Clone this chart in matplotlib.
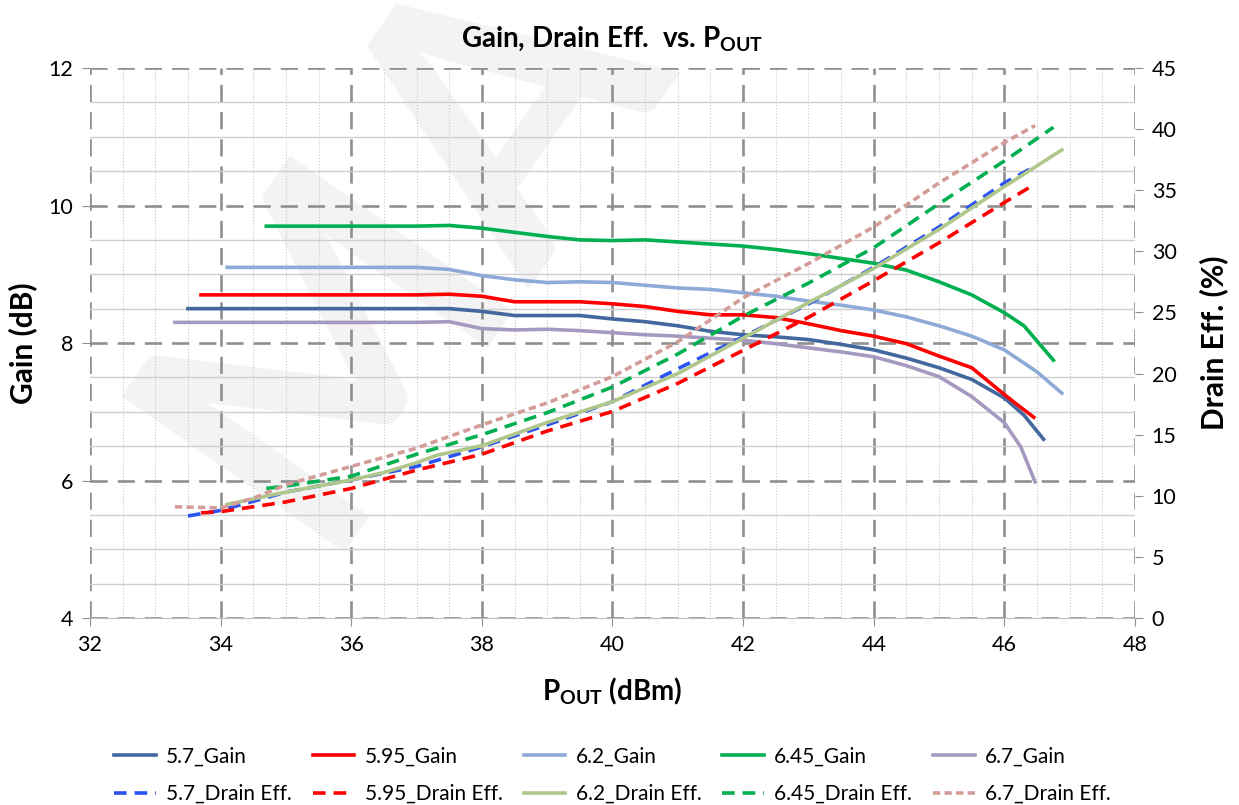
import numpy as np
import matplotlib
matplotlib.use("Agg")
import matplotlib.pyplot as plt
from matplotlib.ticker import MultipleLocator

plt.rcParams['font.family'] = ['Lato', 'DejaVu Sans']

# ---- data ----
g57_x = [33.5, 34, 35, 36, 37, 37.5, 38, 38.5, 39, 39.5, 40, 40.5, 41, 41.5, 42, 42.5, 43, 43.5, 44, 44.5, 45, 45.5, 46, 46.3, 46.6]
g57_y = [8.5, 8.5, 8.5, 8.5, 8.5, 8.5, 8.46, 8.4, 8.4, 8.4, 8.35, 8.31, 8.25, 8.17, 8.12, 8.09, 8.05, 7.98, 7.9, 7.78, 7.64, 7.47, 7.2, 6.95, 6.6]

g595_x = [33.7, 34, 35, 36, 37, 37.5, 38, 38.5, 39, 39.5, 40, 40.5, 41, 41.5, 42, 42.5, 43, 43.5, 44, 44.5, 45, 45.5, 46, 46.2, 46.45]
g595_y = [8.7, 8.7, 8.7, 8.7, 8.7, 8.71, 8.68, 8.6, 8.6, 8.6, 8.57, 8.53, 8.46, 8.41, 8.41, 8.37, 8.28, 8.18, 8.1, 7.99, 7.81, 7.64, 7.25, 7.1, 6.92]

g62_x = [34.1, 35, 36, 37, 37.5, 38, 38.5, 39, 39.5, 40, 40.5, 41, 41.5, 42, 42.5, 43, 43.5, 44, 44.5, 45, 45.5, 46, 46.5, 46.88]
g62_y = [9.1, 9.1, 9.1, 9.1, 9.07, 8.98, 8.92, 8.88, 8.89, 8.88, 8.84, 8.8, 8.78, 8.73, 8.68, 8.61, 8.55, 8.48, 8.38, 8.25, 8.1, 7.9, 7.58, 7.27]

g645_x = [34.7, 35, 36, 37, 37.5, 38, 38.5, 39, 39.5, 40, 40.5, 41, 41.5, 42, 42.5, 43, 43.5, 44, 44.5, 45, 45.5, 46, 46.3, 46.75]
g645_y = [9.7, 9.7, 9.7, 9.7, 9.71, 9.67, 9.61, 9.55, 9.5, 9.49, 9.5, 9.47, 9.44, 9.41, 9.36, 9.3, 9.23, 9.16, 9.06, 8.89, 8.7, 8.44, 8.25, 7.75]

g67_x = [33.3, 34, 35, 36, 37, 37.5, 38, 38.5, 39, 39.5, 40, 40.5, 41, 41.5, 42, 42.5, 43, 43.5, 44, 44.5, 45, 45.5, 46, 46.25, 46.47]
g67_y = [8.3, 8.3, 8.3, 8.3, 8.3, 8.31, 8.21, 8.19, 8.2, 8.18, 8.15, 8.12, 8.1, 8.07, 8.04, 7.99, 7.93, 7.87, 7.8, 7.67, 7.51, 7.22, 6.84, 6.49, 5.98]

de57_x = [33.5, 34, 35, 36, 37, 38, 39, 40, 41, 42, 43, 44, 45, 46, 46.45]
de57_y = [8.35, 8.8, 10.3, 11.3, 12.4, 14.0, 15.8, 17.7, 20.4, 23.0, 25.7, 28.7, 32.0, 35.6, 36.9]

de595_x = [33.7, 34, 35, 36, 37, 38, 39, 40, 41, 42, 43, 44, 45, 46, 46.42]
de595_y = [8.6, 8.7, 9.5, 10.6, 12.1, 13.4, 15.3, 16.9, 19.2, 21.9, 24.6, 27.6, 30.7, 34.0, 35.35]

de62_x = [34.1, 35, 36, 36.5, 37, 37.3, 38, 39, 40, 41, 42, 43, 44, 45, 46, 46.88]
de62_y = [9.3, 10.3, 11.3, 11.9, 12.7, 13.3, 14.1, 16.0, 17.7, 20.0, 22.9, 25.8, 28.6, 31.8, 35.3, 38.3]

de645_x = [34.7, 35, 36, 37, 38, 39, 40, 41, 42, 43, 44, 45, 46, 46.75]
de645_y = [10.6, 10.8, 11.6, 13.4, 15.0, 16.8, 18.9, 21.6, 24.7, 27.4, 30.3, 33.9, 37.4, 40.15]

de67_x = [33.3, 33.7, 34, 34.5, 35, 36, 37, 38, 39, 40, 41, 42, 43, 44, 45, 46, 46.47]
de67_y = [9.1, 9.05, 9.0, 9.8, 10.9, 12.4, 13.9, 15.8, 17.6, 19.75, 22.6, 26.2, 29.0, 32.0, 35.6, 38.9, 40.3]

fig = plt.figure(figsize=(12.39, 8.05), dpi=100)

# faint watermark behind everything (clipped by the figure edge, as in the source)
fig.text(0.07, 0.27, 'MA', rotation=55, fontsize=270, fontweight='bold',
         color='#f3f3f3', ha='left', va='bottom', zorder=-5)

ax = fig.add_axes([0.0726, 0.2323, 0.8435, 0.6832])
ax.set_facecolor('none')
ax2 = ax.twinx()
ax2.set_facecolor('none')

ax.set_xlim(32, 48)
ax.set_ylim(4, 12)
ax2.set_ylim(0, 45)

ax.xaxis.set_major_locator(MultipleLocator(2))
ax.xaxis.set_minor_locator(MultipleLocator(0.5))
ax.yaxis.set_major_locator(MultipleLocator(2))
ax.yaxis.set_minor_locator(MultipleLocator(0.5))
ax2.yaxis.set_major_locator(MultipleLocator(5))

# grid: dashed majors, light minors
ax.grid(which='minor', axis='y', color='#cfcfcf', lw=1.0, ls='-')
ax.grid(which='minor', axis='x', color='#c8c8c8', lw=0.8, ls=':')
ax.grid(which='major', axis='both', color='#8f8f8f', lw=1.9, ls=(0, (6.5, 3.8)))
ax.set_axisbelow(True)

for a in (ax, ax2):
    for s in ('top', 'left', 'right'):
        a.spines[s].set_visible(False)
    a.spines['bottom'].set_color('#bfbfbf')
    a.tick_params(which='minor', length=0)
    a.tick_params(which='major', length=6, color='#8f8f8f', labelsize=15.5, pad=6)
ax2.spines['bottom'].set_visible(False)

lw = 2.6
l1, = ax.plot(g57_x, g57_y, color='#43689e', lw=lw, label='5.7_Gain')
l2, = ax.plot(g595_x, g595_y, color='#ff0000', lw=lw, label='5.95_Gain')
l3, = ax.plot(g62_x, g62_y, color='#8eaad6', lw=lw, label='6.2_Gain')
l4, = ax.plot(g645_x, g645_y, color='#00b050', lw=lw, label='6.45_Gain')
l5, = ax.plot(g67_x, g67_y, color='#a599c0', lw=lw, label='6.7_Gain')

d1, = ax2.plot(de57_x, de57_y, color='#2a52f5', lw=lw, ls=(0, (3.5, 2.2)), label='5.7_Drain Eff.')
d2, = ax2.plot(de595_x, de595_y, color='#ff0000', lw=lw, ls=(0, (3.5, 2.2)), label='5.95_Drain Eff.')
d3, = ax2.plot(de62_x, de62_y, color='#b0c78c', lw=lw, label='6.2_Drain Eff.')
d4, = ax2.plot(de645_x, de645_y, color='#00b050', lw=lw, ls=(0, (3.5, 2.2)), label='6.45_Drain Eff.')
d5, = ax2.plot(de67_x, de67_y, color='#d49c98', lw=lw, ls=(0, (2, 1.2)), label='6.7_Drain Eff.')

ax.set_title(r'Gain, Drain Eff.  vs. P$_{\mathregular{OUT}}$', fontsize=20, fontweight='bold', pad=15)
ax.set_xlabel(r'P$_{\mathregular{OUT}}$ (dBm)', fontsize=20, fontweight='bold', labelpad=15)
ax.set_ylabel('Gain (dB)', fontsize=21.5, fontweight='bold', labelpad=8)
ax2.set_ylabel('Drain Eff. (%)', fontsize=21.5, fontweight='bold', labelpad=16)

handles = [l1, d1, l2, d2, l3, d3, l4, d4, l5, d5]
fig.legend(handles=handles, labels=[h.get_label() for h in handles], ncol=5,
           loc='lower left', bbox_to_anchor=(0.077, -0.022), frameon=False,
           fontsize=15, handlelength=2.0, columnspacing=1.0, handletextpad=0.5,
           labelspacing=0.85)

fig.savefig('out.png', dpi=100)
